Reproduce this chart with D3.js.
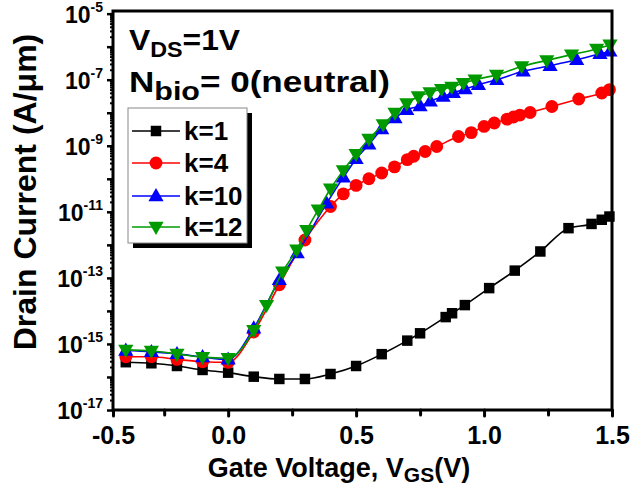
<!DOCTYPE html>
<html><head><meta charset="utf-8">
<script src="https://cdn.jsdelivr.net/npm/d3@7"></script>
<style>
html,body{margin:0;padding:0;background:#fff;}
svg text{font-family:"Liberation Sans",Arial,sans-serif;font-weight:bold;fill:#000;}
</style></head>
<body>
<svg id="chart" width="633" height="490"></svg>
<script>
// ---------- data (V_GS in volts, drain current in A/um) ----------
const seriesNames = ["k=1", "k=4", "k=10", "k=12"];
const seriesColors = ["#000000", "#ff0000", "#0000ff", "#009a00"];

const vK1 = [-0.4,-0.3,-0.2,-0.1,0.0,0.1,0.2,0.3,0.4,0.5,0.6,0.7,0.75,0.85,0.875,0.925,1.02,1.12,1.22,1.33,1.42,1.46,1.49];
const iK1 = [2.8e-16,2.6e-16,2.15e-16,1.63e-16,1.35e-16,1.02e-16,8.7e-17,8.7e-17,1.23e-16,2.15e-16,4.9e-16,1.26e-15,2.1e-15,6.5e-15,8.5e-15,1.5e-14,4.9e-14,1.66e-13,6.3e-13,3.2e-12,4.3e-12,5.75e-12,7.2e-12];

const vK4 = [-0.4,-0.3,-0.2,-0.1,0.0,0.1,0.2,0.3,0.4,0.45,0.5,0.55,0.6,0.65,0.7,0.725,0.77,0.815,0.9,0.95,1.0,1.04,1.09,1.115,1.14,1.18,1.265,1.37,1.46,1.49];
const iK4 = [4.1e-16,4.1e-16,3.4e-16,2.9e-16,2.8e-16,2.3e-15,6.2e-14,1.4e-12,1.45e-11,3.5e-11,6.3e-11,1.0e-10,1.5e-10,2.3e-10,3.8e-10,4.8e-10,6.7e-10,9.5e-10,1.9e-9,2.5e-9,3.85e-9,4.9e-9,6.4e-9,7.4e-9,8.5e-9,1.02e-8,1.55e-8,2.6e-8,3.95e-8,5.0e-8];

const vK10 = [-0.4,-0.3,-0.2,-0.1,0.0,0.1,0.2,0.27,0.385,0.45,0.5,0.55,0.6,0.652,0.698,0.75,0.79,0.84,0.88,0.926,0.978,1.05,1.153,1.258,1.362,1.453,1.492];
const iK10 = [6.3e-16,5.75e-16,5.0e-16,4.0e-16,3.4e-16,3.0e-15,8.7e-14,5.6e-13,1.8e-11,1.1e-10,4.0e-10,1.1e-9,3.2e-9,6.9e-9,1.23e-8,1.6e-8,2.2e-8,3.1e-8,4.0e-8,5.2e-8,7.0e-8,1.0e-7,1.8e-7,2.65e-7,4.0e-7,6.1e-7,7.2e-7];

const vK12 = [-0.4,-0.3,-0.2,-0.1,0.0,0.1,0.15,0.213,0.268,0.307,0.352,0.4,0.45,0.5,0.55,0.606,0.652,0.698,0.743,0.789,0.834,0.874,0.919,0.965,1.049,1.147,1.245,1.342,1.44,1.492];
const iK12 = [6.6e-16,6.1e-16,5.0e-16,4.0e-16,3.7e-16,2.6e-15,1.5e-14,1.55e-13,7.1e-13,2.8e-12,1.15e-11,5.0e-11,1.8e-10,5.6e-10,1.6e-9,4.4e-9,9.8e-9,1.9e-8,3.1e-8,4.1e-8,5.2e-8,6.0e-8,7.9e-8,1.0e-7,1.4e-7,2.5e-7,3.85e-7,5.75e-7,8.5e-7,1.15e-6];

const xTickValues = [-0.45, 0.0, 0.5, 1.0, 1.5];
const xTickLabels = ["-0.5", "0.0", "0.5", "1.0", "1.5"];
const xMinorValues = [-0.25, 0.25, 0.75, 1.25];
const yLabelExponents = [-5, -7, -9, -11, -13, -15, -17];

// ---------- layout ----------
const svg = d3.select("#chart");
const L = 113, R = 612, T = 11, B = 410;
const x = d3.scaleLinear().domain([-0.45, 1.5]).range([L, R]);
const y = d3.scaleLog().domain([1e-17, Math.pow(10, -4.92)]).range([B, T]);

const series = [
  {name: seriesNames[0], color: seriesColors[0], v: vK1, i: iK1, shape: "square"},
  {name: seriesNames[1], color: seriesColors[1], v: vK4, i: iK4, shape: "circle"},
  {name: seriesNames[2], color: seriesColors[2], v: vK10, i: iK10, shape: "up"},
  {name: seriesNames[3], color: seriesColors[3], v: vK12, i: iK12, shape: "down"}
];

function markerPath(shape) {
  if (shape === "square") return d3.symbol().type(d3.symbolSquare).size(110)();
  if (shape === "circle") return d3.symbol().type(d3.symbolCircle).size(130)();
  const s = 8;
  if (shape === "up") return `M0,${-s}L${s*0.95},${s*0.65}L${-s*0.95},${s*0.65}Z`;
  return `M0,${s}L${s*0.95},${-s*0.65}L${-s*0.95},${-s*0.65}Z`;
}

// ---------- series ----------
const line = d3.line().x(d => x(d[0])).y(d => y(d[1])).curve(d3.curveMonotoneX);
const plot = svg.append("g");
series.forEach(s => {
  const pts = s.v.map((v, k) => [v, s.i[k]]);
  plot.append("path").datum(pts).attr("d", line)
    .attr("fill", "none").attr("stroke", s.color).attr("stroke-width", 1.6);
  plot.selectAll(null).data(pts).enter().append("path")
    .attr("d", markerPath(s.shape))
    .attr("transform", d => `translate(${x(d[0])},${y(d[1])})`)
    .attr("fill", s.color);
});

// ---------- axes ----------
const xAxis = d3.axisBottom(x).tickValues(xTickValues)
  .tickFormat((d, k) => xTickLabels[k]).tickSize(6).tickPadding(10);
const gx = svg.append("g").attr("transform", `translate(0,${B})`).call(xAxis);
gx.select(".domain").remove();
gx.selectAll(".tick line").attr("stroke", "#000").attr("stroke-width", 3).attr("stroke-linecap", "round");
gx.selectAll(".tick text").attr("font-size", 25).attr("font-family", "Liberation Sans, Arial, sans-serif").attr("font-weight", "bold");
const gxm = svg.append("g").attr("transform", `translate(0,${B})`)
  .call(d3.axisBottom(x).tickValues(xMinorValues).tickFormat("").tickSize(5));
gxm.select(".domain").remove();
gxm.selectAll(".tick line").attr("stroke", "#000").attr("stroke-width", 3).attr("stroke-linecap", "round");

// y major + minor ticks
const yMajor = d3.range(-17, -4).map(e => Math.pow(10, e));
const yMinor = [];
d3.range(-17, -5).forEach(e => { for (let m = 2; m <= 9; m++) yMinor.push(m * Math.pow(10, e)); });
const gyMinor = svg.append("g").attr("transform", `translate(${L},0)`)
  .call(d3.axisLeft(y).tickValues(yMinor).tickFormat("").tickSize(3));
gyMinor.select(".domain").remove();
gyMinor.selectAll(".tick line").attr("stroke", "#000").attr("stroke-width", 2);
const gy = svg.append("g").attr("transform", `translate(${L},0)`)
  .call(d3.axisLeft(y).tickValues(yMajor).tickFormat("").tickSize(6));
gy.select(".domain").remove();
gy.selectAll(".tick line").attr("stroke", "#000").attr("stroke-width", 2.5);

// y tick labels 10^n
yLabelExponents.forEach(e => {
  const t = svg.append("text").attr("x", 103).attr("y", y(Math.pow(10, e)) + 9)
    .attr("text-anchor", "end").attr("font-size", 23);
  t.append("tspan").text("10");
  t.append("tspan").attr("font-size", 14).attr("dy", -11).text(String(e));
});

// frame
svg.append("rect").attr("x", L).attr("y", T).attr("width", R - L).attr("height", B - T)
  .attr("fill", "none").attr("stroke", "#000").attr("stroke-width", 3);

// ---------- titles ----------
const xt = svg.append("text").attr("transform", "translate(339,477) scale(1.0,1)")
  .attr("text-anchor", "middle").attr("font-size", 27);
xt.append("tspan").text("Gate Voltage, V");
xt.append("tspan").attr("font-size", 21).attr("dy", 5).text("GS");
xt.append("tspan").attr("dy", -5).text("(V)");

svg.append("text").attr("transform", "translate(36,192) rotate(-90)")
  .attr("text-anchor", "middle").attr("font-size", 32).text("Drain Current (A/\u03bcm)");

// annotations
const a1 = svg.append("text").attr("transform", "translate(129,50) scale(1.06,1)").attr("font-size", 30);
a1.append("tspan").text("V");
a1.append("tspan").attr("font-size", 22).attr("dy", 7).text("DS");
a1.append("tspan").attr("dy", -7).text("=1V");
const a2 = svg.append("text").attr("transform", "translate(129,92) scale(1.17,1)").attr("font-size", 30);
a2.append("tspan").text("N");
a2.append("tspan").attr("font-size", 26).attr("dy", 8).text("bio");
a2.append("tspan").attr("dy", -8).text("= 0(neutral)");

// ---------- legend ----------
const lg = svg.append("g");
lg.append("rect").attr("x", 133).attr("y", 113).attr("width", 119).attr("height", 135).attr("fill", "#000");
lg.append("rect").attr("x", 128).attr("y", 108).attr("width", 119).attr("height", 135)
  .attr("fill", "#fff").attr("stroke", "#888").attr("stroke-width", 1);
const legY = [131, 163, 196, 227];
series.forEach((s, k) => {
  const g = lg.append("g").attr("transform", `translate(0,${legY[k]})`);
  g.append("line").attr("x1", 132).attr("x2", 180).attr("y1", 0).attr("y2", 0)
    .attr("stroke", s.color).attr("stroke-width", 1.6);
  g.append("path").attr("d", markerPath(s.shape)).attr("transform", "translate(156,0)").attr("fill", s.color);
  g.append("text").attr("x", 184).attr("y", 9).attr("font-size", 26).text(s.name);
});
</script>
</body></html>
